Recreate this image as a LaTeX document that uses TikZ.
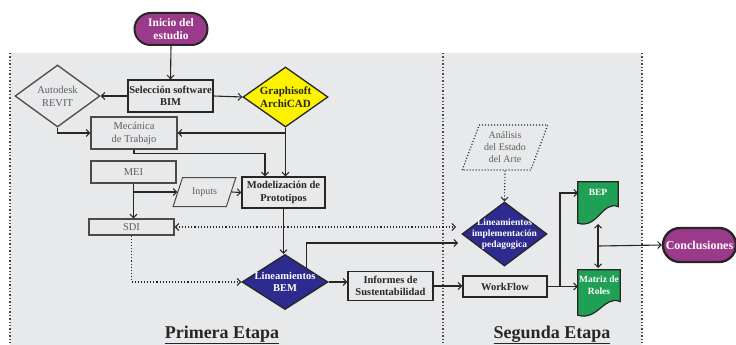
\documentclass[tikz,border=0pt]{standalone}
\usepackage{fontspec}
\setmainfont{Liberation Serif}
\usetikzlibrary{shapes.geometric,shapes.misc,arrows.meta,calc}
\definecolor{bgc}{HTML}{E8E9EB}
\definecolor{purp}{HTML}{9B3A8A}
\definecolor{navy}{HTML}{2E2B8F}
\definecolor{grn}{HTML}{1FA055}
\definecolor{yel}{HTML}{FFF200}
\definecolor{ink}{HTML}{262626}
\definecolor{gline}{HTML}{4A4A4A}
\definecolor{gtxt}{HTML}{5E5E5E}
\begin{document}
\begin{tikzpicture}[x=1pt,y=-1pt,
  >={Straight Barb[length=3.5pt,width=7pt,line width=1pt]},
  conn/.style={draw=ink,line width=1.1pt,->},
  dconn/.style={draw=ink,line width=1.1pt,dotted,->},
  mbox/.style={rectangle,draw=ink,line width=1.4pt,fill=bgc,align=center,inner sep=1pt,
    font=\fontsize{10.5}{12.5}\selectfont\bfseries,text=ink},
  gbox/.style={rectangle,draw=gline,line width=1.3pt,fill=bgc,align=center,inner sep=1pt,
    font=\fontsize{10.5}{13}\selectfont,text=gtxt},
  dia/.style={diamond,draw=ink,line width=1.3pt,inner sep=0pt},
  dtext/.style={align=center,inner sep=0pt},
  term/.style={rounded rectangle,draw=ink,line width=2pt,fill=purp,text=white,align=center,
    inner sep=1pt,font=\fontsize{11.5}{13.5}\selectfont\bfseries},
  para/.style={trapezium,trapezium stretches=true,draw=gline,line width=1pt,fill=bgc,
    align=center,inner sep=0pt,text=gtxt,font=\fontsize{10}{12}\selectfont},
  docshape/.style={draw=ink,line width=1.2pt,fill=grn},
  stage/.style={font=\fontsize{18}{20}\selectfont\bfseries,text=ink},
  border/.style={draw=gline,line width=1.4pt,dotted}
]
\useasboundingbox (0,0) rectangle (736,345);
% background panel and dividers
\fill[bgc] (10,53) rectangle (642,345);
\draw[border] (10,53) -- (10,345);
\draw[border] (443,53) -- (443,345);
\draw[border] (642,53) -- (642,345);

% nodes
\node[term,minimum width=75pt,minimum height=32pt] (inicio) at (171,29) {Inicio del\\estudio};
\node[mbox,minimum width=85pt,minimum height=32pt] (sel) at (170.5,96) {Selección software\\BIM};
\node[dia,draw=gline,fill=bgc,minimum width=85pt,minimum height=62pt] (revit) at (57.5,96) {};
\node[dtext,text=gtxt,font=\fontsize{10.5}{13}\selectfont] (revitt) at (revit) {Autodesk\\REVIT};
\node[dia,fill=yel,minimum width=85pt,minimum height=60pt] (archi) at (285.5,97) {};
\node[dtext,text=ink,font=\fontsize{11}{13}\selectfont\bfseries] (archit) at (archi) {Graphisoft\\ArchiCAD};
\node[gbox,minimum width=86pt,minimum height=32pt] (mec) at (134,133) {Mecánica\\de Trabajo};
\node[gbox,minimum width=85pt,minimum height=22pt] (mei) at (133.5,172) {MEI};
\node[para,trapezium left angle=58,trapezium right angle=122,minimum width=63pt,minimum height=29pt] (inputs) at (204.5,192) {Inputs};
\node[mbox,minimum width=83pt,minimum height=31pt] (model) at (283.5,192.5) {Modelización de\\Prototipos};
\node[gbox,minimum width=85pt,minimum height=16pt] (sdi) at (131.5,227) {SDI};
\node[dia,fill=navy,minimum width=86pt,minimum height=55pt] (bem) at (285,282) {};
\node[dtext,text=white,font=\fontsize{10.5}{12.5}\selectfont\bfseries] (bemt) at (bem) {Lineamientos\\BEM};
\node[mbox,minimum width=85pt,minimum height=29pt] (inf) at (390.5,286) {Informes de\\Sustentabilidad};
\node[mbox,minimum width=84pt,minimum height=21pt] (wf) at (505,286.5) {WorkFlow};
\node[dia,fill=navy,minimum width=85pt,minimum height=64pt] (impl) at (504.5,234) {};
\node[dtext,text=white,font=\fontsize{9.5}{11}\selectfont\bfseries] (implt) at (impl) {Lineamientos\\implementación\\pedagogica};
\node[para,dotted,draw=ink,line width=1.2pt,trapezium left angle=66,trapezium right angle=114,minimum width=86pt,minimum height=45pt,font=\fontsize{10}{12}\selectfont] (anal) at (505,147.5) {Análisis\\del Estado\\del Arte};

% document shapes
\node[minimum width=40pt,minimum height=41pt,inner sep=0pt] (bep) at (598,202.5) {};
\draw[docshape] (bep.north west) -- (bep.north east) -- ($(bep.north east)!0.6!(bep.south east)$)
  .. controls ($(bep.north east)!0.45!(bep.south east)+(-16,0)$) and ($(bep.south west)+(20,6)$) .. (bep.south west) -- cycle;
\node[text=white,font=\fontsize{9.5}{11}\selectfont\bfseries] (bept) at ($(bep.north)+(0,11)$) {BEP};
\node[minimum width=42pt,minimum height=45pt,inner sep=0pt] (mat) at (599,292.5) {};
\draw[docshape] (mat.north west) -- (mat.north east) -- ($(mat.north east)!0.7!(mat.south east)$)
  .. controls ($(mat.north east)!0.55!(mat.south east)+(-16,0)$) and ($(mat.south west)+(20,6)$) .. (mat.south west) -- cycle;
\node[text=white,align=center,inner sep=0pt,font=\fontsize{9.5}{12}\selectfont\bfseries] (matt) at ($(mat.north)+(0,15)$) {Matriz de\\Roles};
\node[term,line width=2.4pt,minimum width=75pt,minimum height=34pt,font=\fontsize{12}{14}\selectfont\bfseries] (concl) at (699.5,245) {Conclusiones};

% stage labels
\node[stage] (st1) at (222,335) {\underline{Primera Etapa}};
\node[stage] (st2) at (552,335) {\underline{Segunda Etapa}};

% helper coordinates
\coordinate (ia) at (456,227);
\coordinate (ib) at (458,243);
\coordinate (wj) at (560,286.5);
\coordinate (bepin) at (578,193);
\coordinate (bepb) at (598,224);
\coordinate (matt0) at (598,268);
\coordinate (cj) at (598,246);

% connectors
\draw[conn] (inicio.south) -- (sel.north);
\draw[conn] (sel.west) -- (revit.east);
\draw[conn] (sel.east) -- (archi.west);
\draw[conn] (revit.south) |- (mec.west);
\draw[conn] (archi.south) |- (mec.east);
\draw[conn] (archi.south) -- (archi.south |- model.north);
\draw[conn] (mec.south) -- ++(0,4) -| ($(model.north)+(-18.5,0)$);
\draw[conn] (mei.south) -- (mei.south |- sdi.north);
\draw[conn] (mei.south |- inputs.west) -- (inputs.west);
\draw[conn] (inputs.east) -- (model.west);
\draw[conn] (model.south) -- (model.south |- bem.north);
\draw[dconn,<->] (sdi.east) -- (ia);
\draw[dconn] (sdi.south) |- (bem.west);
\draw[conn] (bem.north east) |- (ib);
\draw[conn] (bem.east) -- (bem.east -| inf.west);
\draw[conn] (inf.east) -- (inf.east -| wf.west);
\draw[dconn] (anal.south) -- (impl.north);
\draw[conn] (wf.east) -- (wf.east -| mat.west);
\draw[conn] (wj) |- (bepin);
\draw[conn,<->] (bepb) -- (matt0);
\draw[conn] (cj) -- (concl.west);
\end{tikzpicture}
\end{document}
